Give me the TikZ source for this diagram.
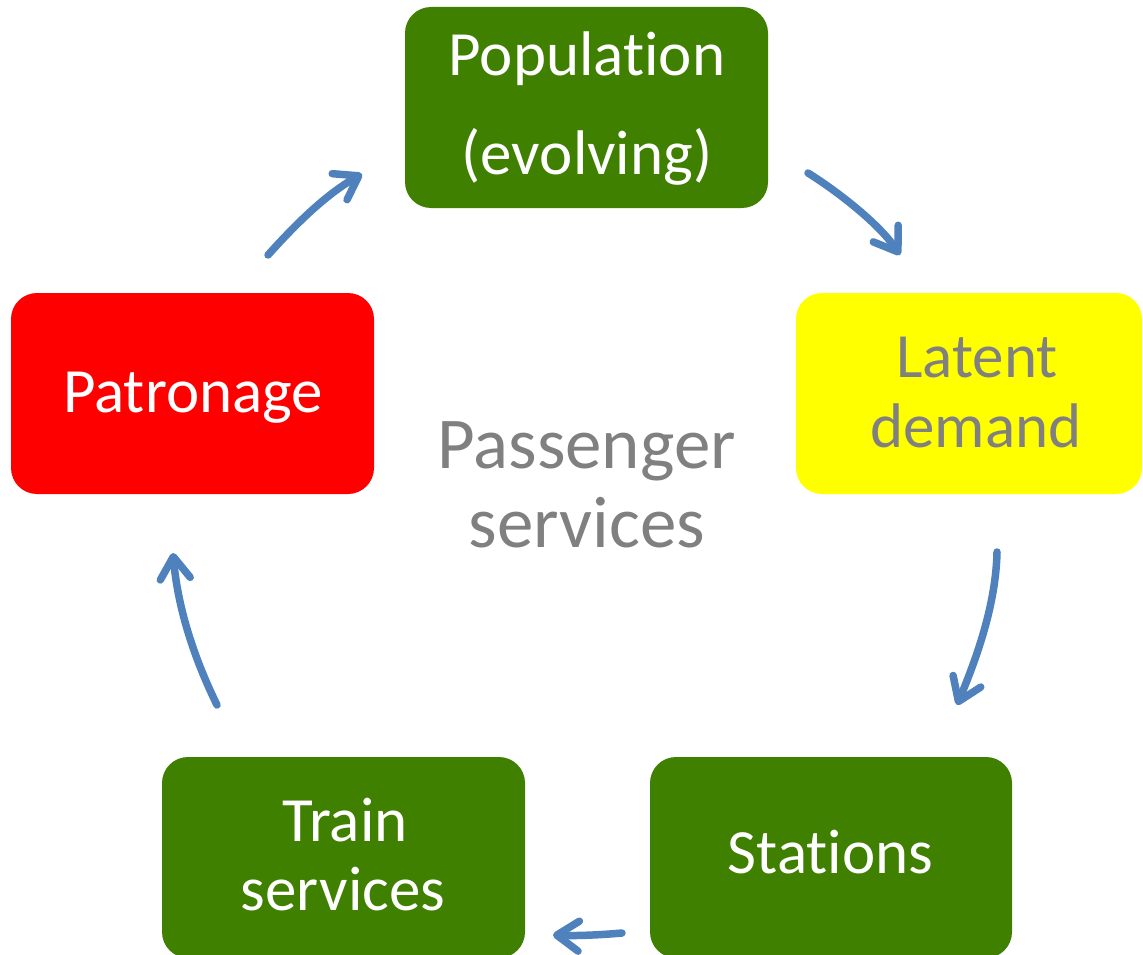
\documentclass[tikz,border=0pt]{standalone}
\usepackage{fontspec}
\setmainfont{Carlito}[Ligatures=NoCommon]
\usetikzlibrary{arrows.meta}
\definecolor{boxgreen}{RGB}{64,128,0}
\definecolor{boxred}{RGB}{255,0,0}
\definecolor{boxyellow}{RGB}{255,255,0}
\definecolor{flowblue}{RGB}{79,129,189}
\definecolor{labelgray}{RGB}{128,128,128}
\begin{document}
\begin{tikzpicture}[x=1pt,y=-1pt,
  stage/.style={rounded corners=26pt, inner sep=0pt, minimum width=363pt, minimum height=201pt},
  stagetext/.style={anchor=base, inner sep=0pt, font=\fontsize{63}{72}\selectfont},
  hubtext/.style={anchor=base, inner sep=0pt, text=labelgray, font=\fontsize{73}{82}\selectfont},
  flow/.style={draw=flowblue, line width=7.5pt, line cap=round,
    -{Straight Barb[length=22pt,width=30pt,round]}}
]
\useasboundingbox (0,0) rectangle (1143,955);

% stage boxes of the cycle
\node[stage, fill=boxgreen] (pop) at (586.5,107.5) {};
\node[stage, fill=boxyellow, minimum width=346pt] (lat) at (969,393.5) {};
\node[stage, fill=boxgreen, minimum width=362pt] (sta) at (831,857.5) {};
\node[stage, fill=boxgreen] (trn) at (343.5,857.5) {};
\node[stage, fill=boxred] (pat) at (192.5,393.5) {};

% box labels
\node[stagetext, text=white] (popA) at (587,76) {Population};
\node[stagetext, text=white] (popB) at (587,174) {(evolving)};
\node[stagetext, text=labelgray] (latA) at (977,377) {Latent};
\node[stagetext, text=labelgray] (latB) at (976,447) {demand};
\node[stagetext, text=white] (staA) at (830.5,873) {Stations};
\node[stagetext, text=white] (trnA) at (345,841) {Train};
\node[stagetext, text=white] (trnB) at (343,910) {services};
\node[stagetext, text=white] (patA) at (193,412) {Patronage};

% centre caption
\node[hubtext] (hubA) at (586.5,468) {Passenger};
\node[hubtext] (hubB) at (587,547) {services};

% arrow end points
\coordinate (a1s) at (268,255);  \coordinate (a1e) at (362,174);
\coordinate (a2s) at (808,173);  \coordinate (a2e) at (900,255);
\coordinate (a3s) at (997,552);  \coordinate (a3e) at (957,705);
\coordinate (a4s) at (622,933);  \coordinate (a4e) at (553,935);
\coordinate (a5s) at (217,705);  \coordinate (a5e) at (173,553);

% cycle arrows
\draw[flow] (a1s) .. controls (295,225) and (325,195) .. (a1e);
\draw[flow] (a2s) .. controls (840,193) and (880,225) .. (a2e);
\draw[flow] (a3s) .. controls (996,600) and (980,650) .. (a3e);
\draw[flow] (a4s) .. controls (600,935) and (575,936) .. (a4e);
\draw[flow] (a5s) .. controls (195,660) and (178,610) .. (a5e);
\end{tikzpicture}
\end{document}
